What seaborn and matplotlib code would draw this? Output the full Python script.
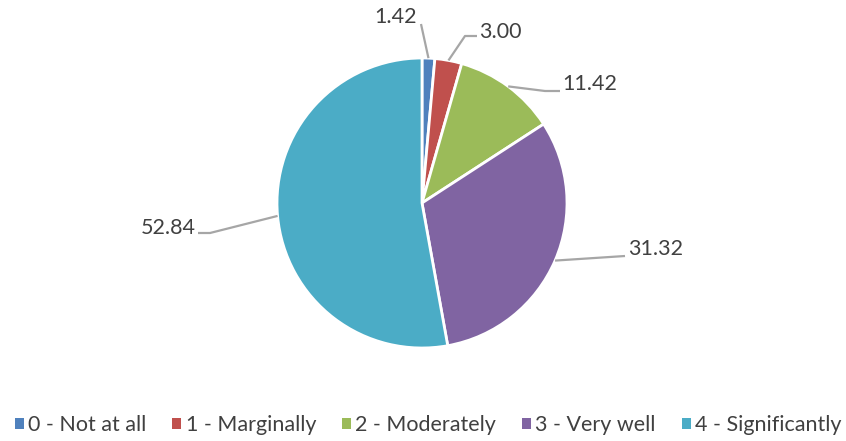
import numpy as np
import matplotlib
matplotlib.use("Agg")
import matplotlib.pyplot as plt
import seaborn as sns
from matplotlib.patches import Patch

categories = ["0 - Not at all", "1 - Marginally", "2 - Moderately", "3 - Very well", "4 - Significantly"]
values = [1.42, 3.00, 11.42, 31.32, 52.84]
labels = ["1.42", "3.00", "11.42", "31.32", "52.84"]
colors = ["#4F81BD", "#C0504D", "#9BBB59", "#8064A2", "#4BACC6"]

sns.set_theme(style="white")
plt.rcParams['font.family'] = ['Lato', 'DejaVu Sans']

W, H = 846, 441
fig = plt.figure(figsize=(W / 100, H / 100), dpi=100)
ax = fig.add_axes([0, 0, 1, 1])

cx, cy, R = 422, H - 203, 145
wedges, _ = ax.pie(values, colors=sns.color_palette(colors), startangle=90, counterclock=False,
                   center=(cx, cy), radius=R, frame=True,
                   wedgeprops=dict(edgecolor="white", linewidth=2))
ax.set_xlim(0, W)
ax.set_ylim(0, H)
ax.set_aspect('equal')
ax.axis('off')

# label layout: (text anchor x, text y from top, elbow x, elbow y, ha, horizontal end x)
layout = [
    (417, 17, 421, 24, 'right', None),
    (479, 32, 465, 36, 'left', 477),
    (562, 84, 545, 91, 'left', 560),
    (628, 249, 625, 256, 'left', None),
    (196, 228, 210, 233, 'right', 198),
]
text_color = "#404040"
line_color = "#A6A6A6"
for w, lab, (tx, ty, ex, ey, ha, hx) in zip(wedges, labels, layout):
    ang = np.deg2rad((w.theta1 + w.theta2) / 2)
    sx = cx + R * np.cos(ang)
    sy = cy + R * np.sin(ang)
    pts_x = [sx, ex]
    pts_y = [sy, H - ey]
    if hx is not None:
        pts_x.append(hx)
        pts_y.append(H - ey)
    ax.plot(pts_x, pts_y, color=line_color, lw=1.6, solid_capstyle='butt')
    ax.text(tx, H - ty, lab, ha=ha, va='center', fontsize=15.5, color=text_color)

handles = [Patch(facecolor=c, edgecolor='none') for c in colors]
leg = fig.legend(handles, categories, loc='center', bbox_to_anchor=(0.506, 1 - 425 / H), ncol=5,
                 frameon=False, fontsize=15.5, handlelength=0.42, handleheight=0.42,
                 handletextpad=0.2, columnspacing=1.2, labelcolor=text_color,
                 borderpad=0, borderaxespad=0)

fig.savefig("out.png", dpi=100)
